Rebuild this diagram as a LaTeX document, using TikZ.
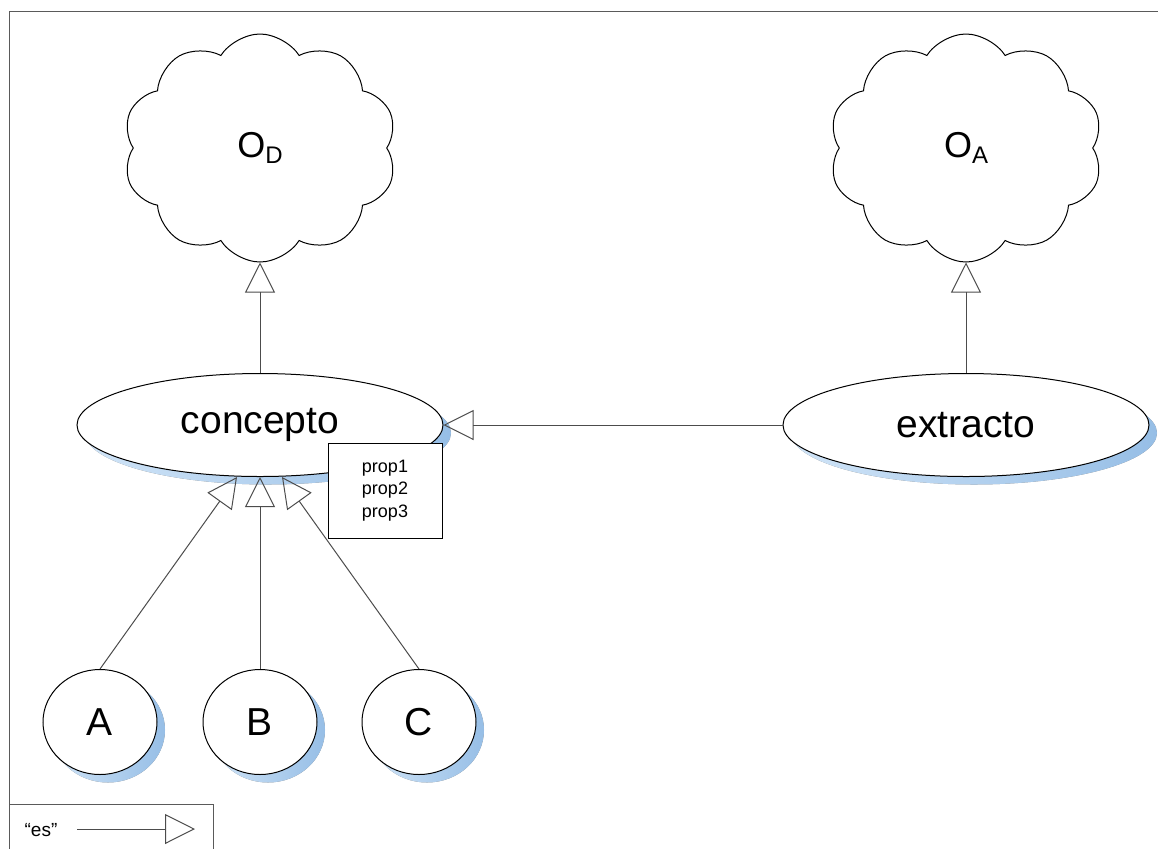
\documentclass[tikz,border=0pt]{standalone}
\usepackage{fontspec}
\setmainfont{Liberation Sans}
\usetikzlibrary{shapes.geometric,shapes.symbols,arrows.meta,shadows}

\definecolor{sombraosc}{RGB}{150,190,230}
\definecolor{sombraclara}{RGB}{208,228,247}
\definecolor{marco}{RGB}{90,90,90}

\tikzset{
  nube/.style={draw, cloud, cloud puffs=10, cloud puff arc=115, cloud ignores aspect,
    minimum width=137pt, minimum height=114pt, fill=white, line width=0.5pt,
    font=\fontsize{18}{20}\selectfont},
  clase/.style={draw, ellipse, fill=white, inner sep=0pt, line width=0.5pt,
    minimum width=183pt, minimum height=51.5pt, font=\fontsize{19.5}{22}\selectfont,
    drop shadow={shadow xshift=4pt, shadow yshift=-4pt, left color=sombraclara,
      right color=sombraosc, opacity=1}},
  caso/.style={clase, minimum width=57pt, minimum height=52.5pt},
  es/.style={-{Triangle[open, length=15pt, width=15pt]}, draw=black!70, line width=0.5pt},
}

\begin{document}
\begin{tikzpicture}[x=0.5pt, y=-0.5pt]
    \useasboundingbox (0,0) rectangle (1158,848);
    \clip (0,0) rectangle (1158,848);
    \draw[marco, line width=0.5pt] (9,11) rectangle (1200,900);

    % ontologias
    \node (od) [nube] at (260,148) {O\raisebox{-3pt}{\fontsize{12}{12}\selectfont D}};
    \node (oa) [nube] at (966,148) {O\raisebox{-3pt}{\fontsize{12}{12}\selectfont A}};

    % clases
    \node (concepto) [clase] at (260,425) {concepto};
    \node (extracto) [clase] at (966,425) {extracto};
    \node (props) [draw, fill=white, line width=0.5pt, minimum width=57pt, minimum height=47.5pt,
      align=center, font=\fontsize{9}{11.25}\selectfont] at (385,490.5) {prop1\\prop2\\prop3};

    \node (a) [caso] at (100,722) {A};
    \node (b) [caso] at (260,722) {B};
    \node (c) [caso] at (419,722) {C};

    \draw[es] (concepto) -- (od);
    \draw[es] (extracto) -- (oa);
    \draw[es] (extracto) -- (concepto);
    \draw[es] (a.north) -- ([xshift=-11.5pt]concepto.south);
    \draw[es] (b.north) -- (concepto.south);
    \draw[es] (c.north) -- ([xshift=11pt]concepto.south);

    % leyenda
    \draw[marco, line width=0.5pt] (9,804) rectangle (213,870);
    \node (eslabel) [font=\fontsize{9.5}{11}\selectfont] at (41,830) {“es”};
    \coordinate (leyini) at (77,829);
    \coordinate (leyfin) at (195,829);
    \draw[es] (leyini) -- (leyfin);
\end{tikzpicture}
\end{document}
